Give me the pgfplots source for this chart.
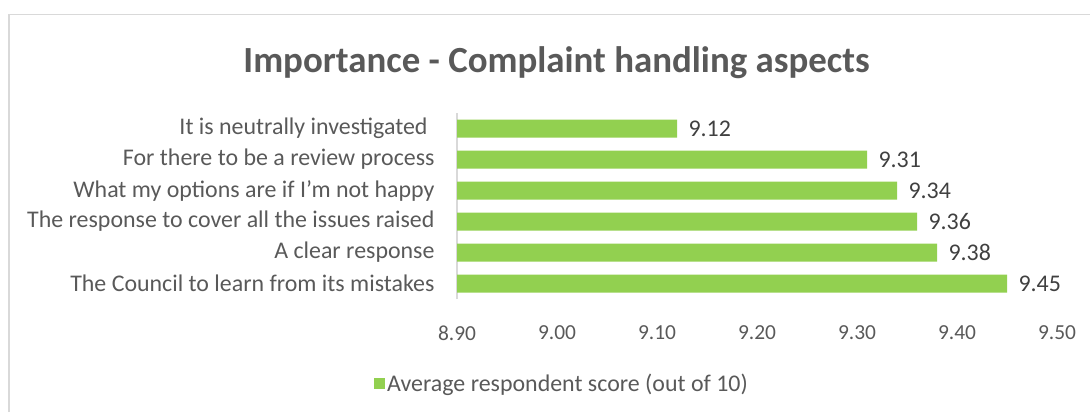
\documentclass[border=0pt]{standalone}
\usepackage{pgfplots}
\pgfplotsset{compat=1.18}
\usepackage{fontspec}
\setmainfont{Carlito}
\definecolor{barg}{HTML}{92D050}
\definecolor{txt}{HTML}{595959}
\definecolor{lab}{HTML}{404040}
\definecolor{axg}{HTML}{D9D9D9}
\begin{document}
\begin{tikzpicture}[x=1bp,y=1bp]
\useasboundingbox (0,0) rectangle (1090,412);
\draw[axg, line width=1.2bp] (9,0) -- (9,397.5) -- (1090,397.5);
\node[font=\bfseries\fontsize{37}{44}\selectfont, text=txt, anchor=base] at (556.5,340) {Importance - Complaint handling aspects};
\begin{axis}[at={(457bp,113bp)}, anchor=south west, scale only axis,
  width=600bp, height=186bp,
  xbar, xmin=8.9, xmax=9.5, ymin=-0.5, ymax=5.5, bar width=18bp,
  xtick={8.9,9.0,9.1,9.2,9.3,9.4,9.5},
  /pgf/number format/assume math mode=true,
  /pgf/number format/fixed, /pgf/number format/fixed zerofill, /pgf/number format/precision=2,
  ytick={0,1,2,3,4,5},
  yticklabels={The Council to learn from its mistakes, A clear response, The response to cover all the issues raised, What my options are if I'm not happy, For there to be a review process, {It is neutrally investigated\kern7bp}},
  axis lines*=left,
  x axis line style={draw=none},
  y axis line style={axg, line width=1.2bp},
  major tick length=0pt,
  tick label style={font=\fontsize{24}{28}\selectfont},
  xticklabel style={text=txt, yshift=-23bp, font=\fontsize{21.5}{26}\selectfont},
  yticklabel style={text=txt, xshift=-19bp},
  nodes near coords,
  nodes near coords style={font=\fontsize{24}{28}\selectfont, text=lab, anchor=west, xshift=8bp},
  legend style={at={(0.175,-0.452)}, anchor=center, draw=none, fill=none,
    font=\fontsize{24}{28}\selectfont, text=txt, inner sep=0pt},
  legend image code/.code={\fill[barg] (0bp,-5.5bp) rectangle (11bp,5.5bp);},
]
\addplot[fill=barg, draw=none] coordinates {(9.45,0) (9.38,1) (9.36,2) (9.34,3) (9.31,4) (9.12,5)};
\addlegendentry{Average respondent score (out of 10)}
\end{axis}
\end{tikzpicture}
\end{document}
